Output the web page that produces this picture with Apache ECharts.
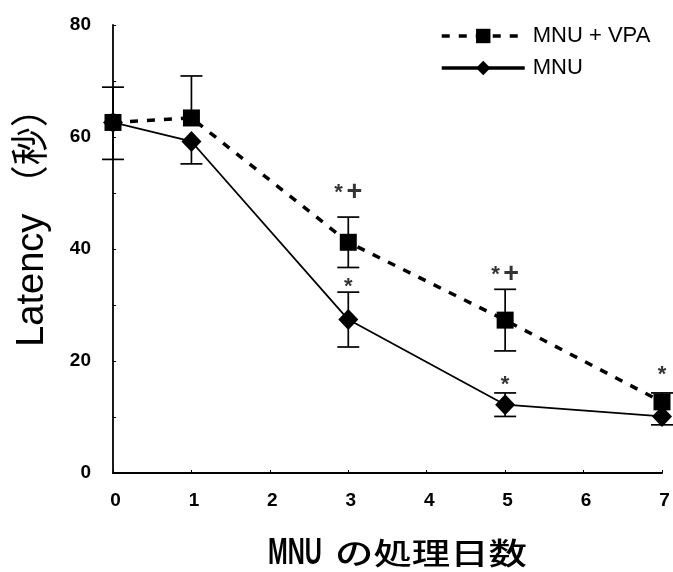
<!DOCTYPE html>
<html><head><meta charset="utf-8">
<script src="https://cdn.jsdelivr.net/npm/echarts@6/dist/echarts.min.js"></script>
<style>html,body{margin:0;padding:0;background:#fff}#c{width:673px;height:572px}</style>
</head><body><div id="c"></div>
<script>
var days = [0, 1, 3, 5, 7];
var vpaMean = [62.6, 63.4, 41.2, 27.3, 12.7];
var vpaErr = [6.3, 7.5, 4.5, 5.5, 1.6];
var mnuMean = [62.6, 59.2, 27.4, 12.2, 10.1];
var mnuErr = [6.6, 4.0, 4.9, 2.1, 1.5];
// error bar directions: which side of each point is drawn ('both','up','down')
var vpaErrDir = ['up', 'up', 'both', 'both', 'up'];
var mnuErrDir = ['down', 'down', 'both', 'both', 'down'];
var annX = [3, 3, 5, 5, 7];
var annY = [50.0, 33.3, 35.4, 15.8, 17.5];
var annText = ['{s|*}{g| }{p|+}', '{s|*}', '{s|*}{g| }{p|+}', '{s|*}', '{s|*}'];
var yTicks = [0, 20, 40, 60, 80];
var seriesNames = ['MNU + VPA', 'MNU'];
var yName = 'Latency （秒）';
var xNameA = 'MNU';
var xNameB = 'の処理日数';

function errData(mean, err, dir) {
  return days.map(function (d, i) { return [d, mean[i], err[i], dir[i]]; });
}
function errRender(params, api) {
  var x = api.value(0), m = api.value(1), e = api.value(2), dir = api.value(3);
  var hi = (dir === 'both' || dir === 'up') ? m + e : m;
  var lo = (dir === 'both' || dir === 'down') ? m - e : m;
  var pHi = api.coord([x, hi]), pLo = api.coord([x, lo]);
  var w = 11;
  var st = { stroke: '#000', lineWidth: 1.7 };
  var ch = [{ type: 'line', shape: { x1: pHi[0], y1: pHi[1], x2: pLo[0], y2: pLo[1] }, style: st }];
  if (hi !== m) ch.push({ type: 'line', shape: { x1: pHi[0] - w, y1: pHi[1], x2: pHi[0] + w, y2: pHi[1] }, style: st });
  if (lo !== m) ch.push({ type: 'line', shape: { x1: pLo[0] - w, y1: pLo[1], x2: pLo[0] + w, y2: pLo[1] }, style: st });
  return { type: 'group', children: ch };
}
var chart = echarts.init(document.getElementById('c'), null, { renderer: 'canvas' });
var font = 'Liberation Sans, Arial, sans-serif';
chart.setOption({
  animation: false,
  grid: { left: 113, right: 11, top: 25, bottom: 99 },
  legend: {
    orient: 'vertical', left: 435, top: 20, itemGap: 10,
    itemWidth: 83, itemHeight: 18,
    textStyle: { fontFamily: font, fontSize: 22, color: '#000', padding: [0, 0, 0, 3] },
    data: [
      { name: seriesNames[0], lineStyle: { width: 3.5 } },
      { name: seriesNames[1], lineStyle: { width: 3.5, type: 'solid' } }
    ]
  },
  graphic: [
    {
      type: 'text', x: 33, y: 218, rotation: Math.PI / 2,
      style: { text: yName, fontFamily: 'Liberation Sans, Noto Sans CJK JP, sans-serif', fontSize: 38, fill: '#000', align: 'center', verticalAlign: 'middle' }
    },
    {
      type: 'text', x: 268, y: 554, scaleX: 0.64,
      style: { text: xNameA, fontFamily: font, fontSize: 37, fontWeight: 'bold', fill: '#000', align: 'left', verticalAlign: 'middle' }
    },
    {
      type: 'text', x: 335, y: 553, scaleX: 1.28,
      style: { text: xNameB, fontFamily: 'Noto Sans CJK JP', fontSize: 30, fontWeight: 500, fill: '#000', align: 'left', verticalAlign: 'middle' }
    }
  ],
  xAxis: {
    type: 'value', min: 0, max: 7, interval: 1,
    axisLine: { lineStyle: { color: '#000', width: 1.8 } },
    axisTick: { inside: true, length: 3, lineStyle: { color: '#000' } },
    axisLabel: { fontFamily: font, fontSize: 19, color: '#000', margin: 18, fontWeight: 'bold', padding: [0, 0, 0, 5] },
    splitLine: { show: false }
  },
  yAxis: {
    type: 'value', min: 0, max: 80, interval: 10,
    axisLine: { show: true, lineStyle: { color: '#000', width: 1.8 } },
    axisTick: { show: true, inside: true, length: 3, lineStyle: { color: '#000' } },
    axisLabel: {
      fontFamily: font, fontSize: 19, color: '#000', margin: 22, fontWeight: 'bold',
      formatter: function (v) { return yTicks.indexOf(v) >= 0 ? String(v) : ''; }
    },
    splitLine: { show: false }
  },
  series: [
    {
      name: seriesNames[0], type: 'line', z: 3,
      data: days.map(function (d, i) { return [d, vpaMean[i]]; }),
      symbol: 'rect', symbolSize: 17,
      lineStyle: { color: '#000', width: 3.5, type: [8, 9] },
      itemStyle: { color: '#000' }
    },
    {
      name: seriesNames[1], type: 'line', z: 3,
      data: days.map(function (d, i) { return [d, mnuMean[i]]; }),
      symbol: 'diamond', symbolSize: [20, 21],
      lineStyle: { color: '#000', width: 1.8 },
      itemStyle: { color: '#000' }
    },
    { type: 'custom', renderItem: errRender, data: errData(vpaMean, vpaErr, vpaErrDir), z: 2, silent: true },
    { type: 'custom', renderItem: errRender, data: errData(mnuMean, mnuErr, mnuErrDir), z: 2, silent: true },
    {
      type: 'scatter', symbolSize: 0, silent: true,
      data: annX.map(function (x, i) { return { value: [x, annY[i]], label: { formatter: annText[i] } }; }),
      label: {
        show: true, position: 'inside', color: '#000',
        rich: {
          s: { fontFamily: font, fontSize: 22, fontWeight: 'bold', color: '#000' },
          g: { fontFamily: font, fontSize: 13 },
          p: { fontFamily: font, fontSize: 27, fontWeight: 'bold', color: '#000' }
        }
      }
    }
  ]
});
</script></body></html>
